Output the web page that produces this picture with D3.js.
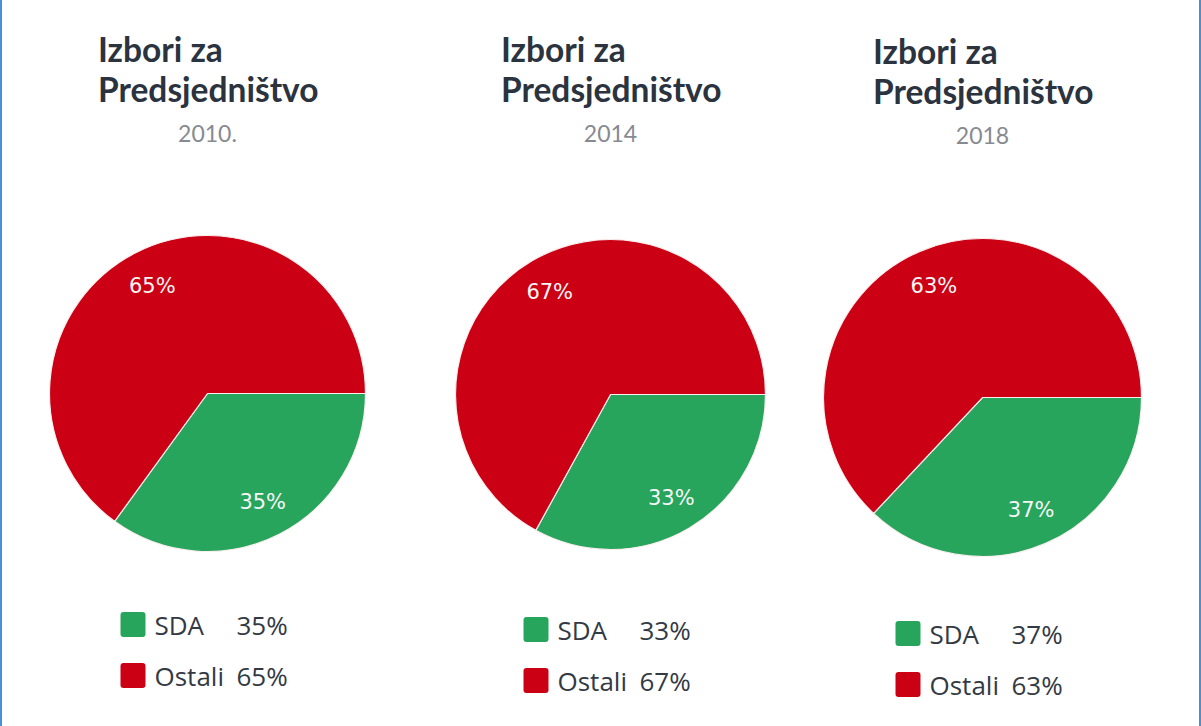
<!DOCTYPE html>
<html>
<head>
<meta charset="utf-8">
<script src="https://cdn.jsdelivr.net/npm/d3@7"></script>
<style>
  html, body { margin: 0; padding: 0; background: #fff; }
  svg { display: block; }
  .title { font-family: Lato, sans-serif; font-weight: 700; font-size: 33.5px; fill: #2b333f; }
  .year { font-family: Lato, sans-serif; font-size: 23px; fill: #878a91; }
  .slice-label { font-family: "DejaVu Sans", sans-serif; font-size: 21px; fill: #f6f6f6; }
  .legend-text { font-family: "Open Sans", sans-serif; font-size: 26px; fill: #333a44; }
</style>
</head>
<body>
<svg id="chart"></svg>
<script>
const width = 1201;
const height = 726;

// data
const years = ["2010.", "2014", "2018"];
const parties = ["SDA", "Ostali"];
const sdaShare = [35, 33, 37];
const ostaliShare = [65, 67, 63];
const titleLines = ["Izbori za", "Predsjedništvo"];

const colors = d3.scaleOrdinal()
  .domain(parties)
  .range(["#27a55c", "#cc0014"]);

// layout of the three panels
const panels = [
  { cx: 207.5, cy: 393.5, r: 158, titleDy: 0, legendY: 612 },
  { cx: 610.5, cy: 394.5, r: 155, titleDy: 0, legendY: 617 },
  { cx: 982.5, cy: 397.5, r: 159, titleDy: 2, legendY: 621 }
];

const svg = d3.select("#chart")
  .attr("width", width)
  .attr("height", height);

// side borders
svg.append("rect").attr("x", 0).attr("y", 0).attr("width", 2).attr("height", height).attr("fill", "#4a8fd6");
svg.append("rect").attr("x", width - 2).attr("y", 0).attr("width", 2).attr("height", height).attr("fill", "#4a8fd6");

const pie = d3.pie()
  .sort(null)
  .value(d => d.value)
  .startAngle(Math.PI / 2)
  .endAngle(Math.PI / 2 + 2 * Math.PI);

years.forEach(function(year, i) {
  const p = panels[i];
  const rows = [
    { party: parties[0], value: sdaShare[i] },
    { party: parties[1], value: ostaliShare[i] }
  ];

  const g = svg.append("g").attr("class", "panel");

  // title
  const title = g.append("text")
    .attr("class", "title")
    .attr("x", p.cx - 109.5)
    .attr("y", 62 + p.titleDy);
  title.selectAll("tspan")
    .data(titleLines)
    .enter()
    .append("tspan")
    .attr("x", p.cx - 109.5)
    .attr("dy", (d, j) => j === 0 ? 0 : 40)
    .text(d => d);

  g.append("text")
    .attr("class", "year")
    .attr("x", p.cx)
    .attr("y", 142 + p.titleDy)
    .attr("text-anchor", "middle")
    .text(year);

  // pie
  const arc = d3.arc().innerRadius(0).outerRadius(p.r);
  const labelArc = d3.arc().innerRadius(p.r * 0.77).outerRadius(p.r * 0.77);

  const pieGroup = g.append("g").attr("transform", translate(p.cx, p.cy));
  const arcs = pie(rows);

  pieGroup.selectAll("path")
    .data(arcs)
    .enter()
    .append("path")
    .attr("d", arc)
    .attr("fill", d => colors(d.data.party))
    .attr("stroke", "#fbeeee")
    .attr("stroke-width", 1.2);

  pieGroup.selectAll("text")
    .data(arcs)
    .enter()
    .append("text")
    .attr("class", "slice-label")
    .attr("transform", d => "translate(" + labelArc.centroid(d) + ")")
    .attr("text-anchor", "middle")
    .attr("dy", "0.36em")
    .text(d => d.data.value + "%");

  // legend
  const legendX = p.cx - 87;
  const items = g.selectAll("g.legend-item")
    .data(rows)
    .enter()
    .append("g")
    .attr("class", "legend-item")
    .attr("transform", (d, j) => translate(legendX, p.legendY + j * 51));

  items.append("rect")
    .attr("width", 25)
    .attr("height", 25)
    .attr("rx", 3)
    .attr("fill", d => colors(d.party));

  items.append("text")
    .attr("class", "legend-text")
    .attr("x", 34)
    .attr("y", 23)
    .text(d => d.party);

  items.append("text")
    .attr("class", "legend-text")
    .attr("x", 116)
    .attr("y", 23)
    .text(d => d.value + "%");
});

function translate(x, y) {
  return "translate(" + String(x) + "," + String(y) + ")";
}
</script>
</body>
</html>
